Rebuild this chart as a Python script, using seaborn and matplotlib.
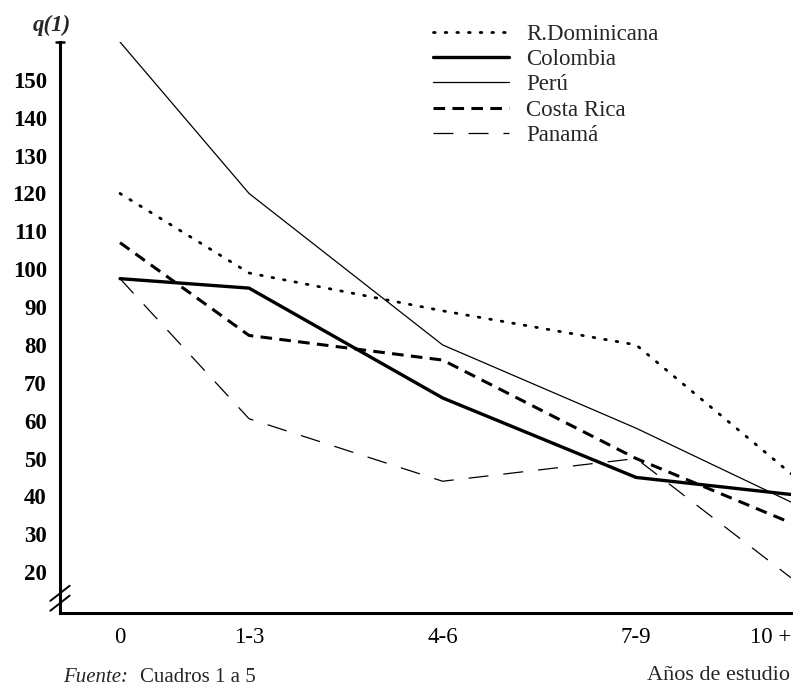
import numpy as np
import pandas as pd
import matplotlib
matplotlib.use("Agg")
import matplotlib.pyplot as plt
import seaborn as sns

# --- data ---
grupos = ["0", "1-3", "4-6", "7-9", "10 +"]
anios = [0, 2, 5, 8, 10.4]          # approximate mid-point of each schooling group

r_dominicana = [120, 99, 89, 80, 46]
colombia = [97.5, 95, 66, 45, 40.5]
peru = [160, 120, 80, 58, 38.5]
costa_rica = [107, 82.5, 76, 50, 33]
panama = [97.5, 60.5, 44, 50, 18.5]

paises = ["R.Dominicana", "Colombia", "Perú", "Costa Rica", "Panamá"]
series = [r_dominicana, colombia, peru, costa_rica, panama]

# line looks for each country
estilos = {
    "R.Dominicana": dict(lw=2.0, ls=(0, (0.6, 3.6)), dash_capstyle="round"),
    "Colombia": dict(lw=2.4, ls="-"),
    "Perú": dict(lw=0.9, ls="-"),
    "Costa Rica": dict(lw=2.2, ls=(0, (3.8, 2.4))),
    "Panamá": dict(lw=0.9, ls=(0, (16, 12))),
}

df = pd.DataFrame({
    "pais": np.repeat(paises, len(anios)),
    "anios": anios * len(paises),
    "q1": np.concatenate(series),
})

sns.set_style("white")
plt.rcParams["font.family"] = ["Liberation Serif", "DejaVu Serif"]

fig = plt.figure(figsize=(8, 6.86), dpi=100)
ax = fig.add_axes([60 / 800, 1 - 613 / 686, (791 - 60) / 800, (613 - 42) / 686])

for pais in paises:
    st = estilos[pais]
    sns.lineplot(data=df[df["pais"] == pais], x="anios", y="q1", ax=ax,
                 color="black", linewidth=st["lw"], linestyle=st["ls"],
                 label=pais, legend=False)
    if "dash_capstyle" in st:
        ax.lines[-1].set_dash_capstyle(st["dash_capstyle"])

ax.set_xlim(-0.93, 10.4)
ax.set_ylim(9.2, 160)

# axes look
for s in ["top", "right"]:
    ax.spines[s].set_visible(False)
ax.spines["left"].set_linewidth(2.2)
ax.spines["bottom"].set_linewidth(2.2)
ax.spines["left"].set_color("black")
ax.spines["bottom"].set_color("black")

ax.set_yticks(range(20, 160, 10))
ax.set_yticklabels([str(v) for v in range(20, 160, 10)],
                   fontsize=16.5, fontweight="bold")
ax.tick_params(axis="y", direction="out", length=8.5, width=1.6,
               pad=1, colors="black")

ax.set_xticks(anios)
ax.set_xticklabels(grupos, fontsize=16.5)
ax.get_xticklabels()[-1].set_horizontalalignment("right")
ax.tick_params(axis="x", direction="in", length=9, width=1.3, pad=10,
               colors="black")
ax.set_xlabel("")
ax.set_ylabel("")

# cap at the top of the y axis
ax.plot([-0.99, -0.87], [160, 160], color="black", lw=1.8, clip_on=False)

# axis break mark on the y axis
for dy in (0.0, 2.6):
    ax.plot([-1.08, -0.78], [9.8 + dy, 13.8 + dy],
            color="black", lw=1.4, clip_on=False)

# legend
ax.legend(loc="upper left", bbox_to_anchor=(433 / 800, 1 - 24 / 686),
          bbox_transform=fig.transFigure, frameon=False, fontsize=16.5,
          handlelength=3.3, handletextpad=0.75, labelspacing=0.18,
          borderpad=0, borderaxespad=0)

fig.text(52 / 800, 1 - 25 / 686, "q(1)", fontsize=16.5, style="italic",
         fontweight="bold", ha="center", va="center")
fig.text(790 / 800, 1 - 676 / 686, "Años de estudio", fontsize=16,
         ha="right", va="center")
fig.text(63 / 800, 1 - 668 / 686, "Fuente:", fontsize=15, style="italic",
         ha="left", va="top")
fig.text(140 / 800, 1 - 668 / 686, "Cuadros 1 a 5", fontsize=15,
         ha="left", va="top")

fig.savefig("out.png", dpi=100)
